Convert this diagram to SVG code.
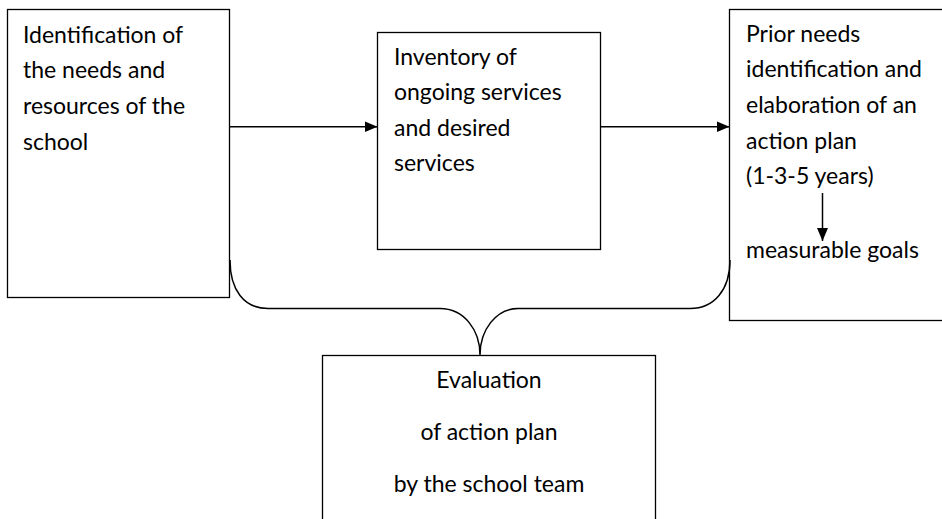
<svg xmlns="http://www.w3.org/2000/svg" width="942" height="519" viewBox="0 0 942 519">
<defs>
<style>
.box{fill:#fff;stroke:#000;stroke-width:1.3}
.t{font-family:Lato,"Liberation Sans",sans-serif;font-size:23px;fill:#000}
.c{text-anchor:middle}
.ln{fill:none;stroke:#000;stroke-width:1.5}
</style>
<marker id="ah" markerWidth="13" markerHeight="11" refX="13" refY="5.5" orient="auto" markerUnits="userSpaceOnUse">
<path d="M0,0 L13,5.5 L0,11 Z" fill="#000"/>
</marker>
</defs>
<rect width="942" height="519" fill="#fff"/>
<g id="n1">
<rect class="box" x="7.5" y="9.5" width="222" height="288"/>
<text class="t" x="23" y="42.5">Identification of</text>
<text class="t" x="23" y="78">the needs and</text>
<text class="t" x="23" y="114">resources of the</text>
<text class="t" x="23" y="149.5">school</text>
</g>
<g id="n2">
<rect class="box" x="377.5" y="32.5" width="223" height="217"/>
<text class="t" x="394" y="65">Inventory of</text>
<text class="t" x="394" y="100">ongoing services</text>
<text class="t" x="394" y="135.5">and desired</text>
<text class="t" x="394" y="170.5">services</text>
</g>
<g id="n3">
<rect class="box" x="729.5" y="9.5" width="220" height="311"/>
<text class="t" x="746" y="41.5">Prior needs</text>
<text class="t" x="746" y="77.3">identification and</text>
<text class="t" x="746" y="113.3">elaboration of an</text>
<text class="t" x="746" y="149.3">action plan</text>
<text class="t" x="746" y="184.3">(1-3-5 years)</text>
<text class="t" x="746" y="258.3">measurable goals</text>
</g>
<g id="n4">
<rect class="box" x="322.5" y="355.5" width="333" height="180"/>
<text class="t c" x="489" y="388.3">Evaluation</text>
<text class="t c" x="489" y="440">of action plan</text>
<text class="t c" x="489" y="491.7">by the school team</text>
</g>
<g id="connectors">
<path class="ln" d="M230,260 C230,290 244,308.5 268,308.5 L440,308.5 C464,308.5 480,330 480,355 C480,330 496,308.5 518,308.5 L690,308.5 C714,308.5 730,290 730,260"/>
<line class="ln" x1="230" y1="126.7" x2="377.5" y2="126.7" marker-end="url(#ah)"/>
<line class="ln" x1="600.5" y1="126.7" x2="729.5" y2="126.7" marker-end="url(#ah)"/>
<line class="ln" x1="822.5" y1="193" x2="822.5" y2="241" marker-end="url(#ah)"/>
</g>
</svg>
